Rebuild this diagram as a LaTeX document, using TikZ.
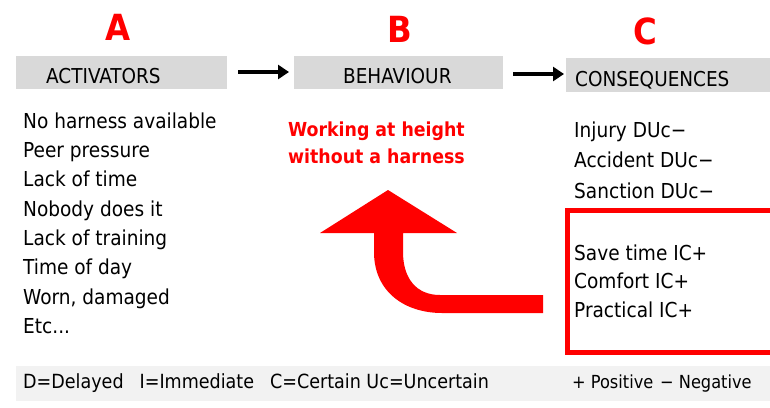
\documentclass[tikz,border=0pt]{standalone}
\usepackage{fontspec}
\setmainfont{DejaVu Sans Condensed}
\usetikzlibrary{arrows.meta}
\definecolor{boxgray}{HTML}{D9D9D9}
\definecolor{bargray}{HTML}{F2F2F2}
\definecolor{myred}{HTML}{FF0000}
\tikzset{
  letter/.style={text=myred,font=\fontsize{36}{40}\selectfont\bfseries,inner sep=0pt},
  hdrbox/.style={fill=boxgray,inner sep=0pt,anchor=north west},
  hdrtext/.style={font=\fontsize{20.5}{24}\selectfont,inner sep=0pt,anchor=base west},
  item/.style={font=\fontsize{20.6}{24}\selectfont,inner sep=0pt,anchor=base west},
  reditem/.style={font=\fontsize{19.3}{22}\selectfont\bfseries,text=myred,inner sep=0pt,anchor=base west},
  flow/.style={line width=4.5pt,-{Triangle[length=11pt,width=14pt]}},
  legend/.style={font=\fontsize{19.5}{24}\selectfont,inner sep=0pt,anchor=base west},
  legendsm/.style={font=\fontsize{18}{22}\selectfont,inner sep=0pt,anchor=base west}
}
\begin{document}
\begin{tikzpicture}[x=1pt,y=-1pt]
\useasboundingbox (0,0) rectangle (770,407);
\fill[white] (0,0) rectangle (770,407);
% letters
\node[letter] (la) at (118,27) {A};
\node[letter] (lb) at (400,29) {B};
\node[letter] (lc) at (645,31) {C};
% header boxes
\node[hdrbox,minimum width=211pt,minimum height=33pt] (bact) at (16,56) {};
\node[hdrbox,minimum width=209pt,minimum height=33pt] (bbeh) at (294,56) {};
\node[hdrbox,minimum width=210pt,minimum height=34pt] (bcon) at (566,58) {};
\node[hdrtext] (tact) at (46,83) {ACTIVATORS};
\node[hdrtext] (tbeh) at (343,83) {BEHAVIOUR};
\node[hdrtext] (tcon) at (575,86) {CONSEQUENCES};
\coordinate (a1s) at (238,72);
\coordinate (a1e) at (289,72);
\coordinate (a2s) at (513,74);
\coordinate (a2e) at (564,74);
\draw[flow] (a1s) -- (a1e);
\draw[flow] (a2s) -- (a2e);
% activators list
\node[item] (i1) at (23,128) {No harness available};
\node[item] (i2) at (23,157.3) {Peer pressure};
\node[item] (i3) at (23,186.6) {Lack of time};
\node[item] (i4) at (23,216) {Nobody does it};
\node[item] (i5) at (23,245) {Lack of training};
\node[item] (i6) at (23,274.6) {Time of day};
\node[item] (i7) at (23,304) {Worn, damaged};
\node[item] (i8) at (23,333) {Etc...};
% behaviour
\node[reditem] (r1) at (288,136) {Working at height};
\node[reditem] (r2) at (288,163) {without a harness};
% consequences
\node[item] (c1) at (574,137) {Injury DUc−};
\node[item] (c2) at (574,167) {Accident DUc−};
\node[item] (c3) at (574,198) {Sanction DUc−};
\node[item] (c4) at (574,260) {Save time IC+};
\node[item] (c5) at (574,288) {Comfort IC+};
\node[item] (c6) at (574,317) {Practical IC+};
\draw[myred,line width=5pt] (775,210.5) -- (567.5,210.5) -- (567.5,352.5) -- (775,352.5);
% big curved arrow
\fill[myred] (543,295) -- (440,295) .. controls (416,295) and (403,278) .. (403,252) -- (403,233) -- (457,233) -- (388,190) -- (320,233) -- (374,233) -- (374,252) .. controls (374,292) and (405,313) .. (442,313) -- (543,313) -- cycle;
% legend bar
\fill[bargray] (16,366) rectangle (775,401);
\node[legend] (lg1) at (23,388) {D=Delayed\hspace{16pt}I=Immediate\hspace{16pt}C=Certain Uc=Uncertain};
\node[legendsm] (lg2) at (572,388) {+ Positive};
\node[legendsm] (lg3) at (660,388) {− Negative};
\end{tikzpicture}
\end{document}
